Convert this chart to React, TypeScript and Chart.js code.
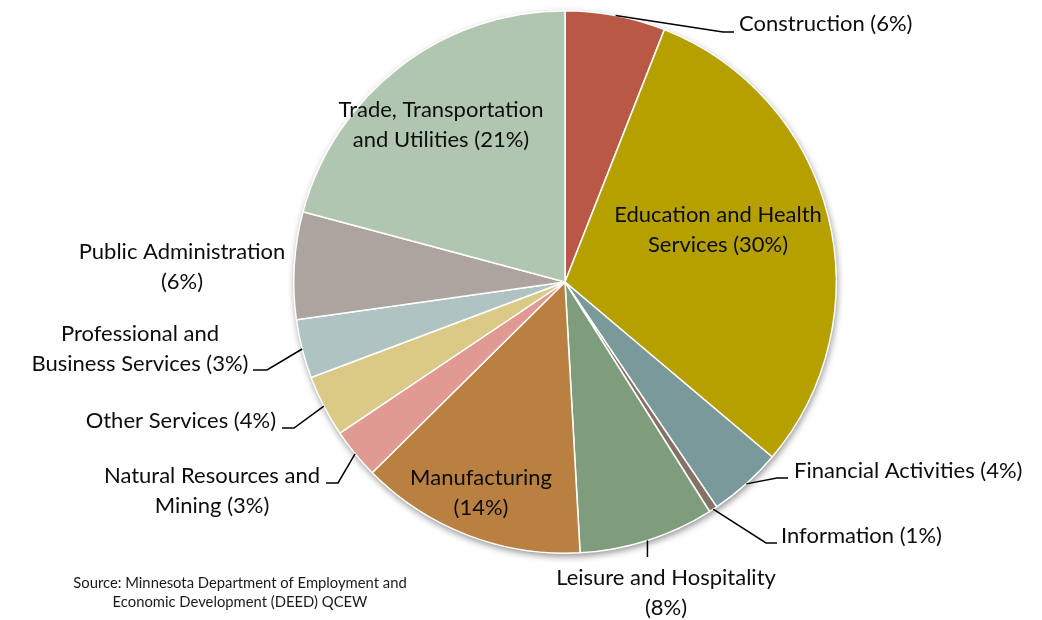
import React, { useEffect, useRef } from "react";
import { Chart, registerables } from "chart.js";

Chart.register(...registerables);

// ---- data ----
const categories = [
  "Construction",
  "Education and Health Services",
  "Financial Activities",
  "Information",
  "Leisure and Hospitality",
  "Manufacturing",
  "Natural Resources and Mining",
  "Other Services",
  "Professional and Business Services",
  "Public Administration",
  "Trade, Transportation and Utilities",
];
const shares = [5.97, 30.19, 4.39, 0.5, 8.06, 13.47, 3.0, 3.69, 3.5, 6.39, 20.83];
const shareLabels = ["6%", "30%", "4%", "1%", "8%", "14%", "3%", "4%", "3%", "6%", "21%"];
const labelLines = [
  ["Construction (6%)"],
  ["Education and Health", "Services (30%)"],
  ["Financial Activities (4%)"],
  ["Information (1%)"],
  ["Leisure and Hospitality", "(8%)"],
  ["Manufacturing", "(14%)"],
  ["Natural Resources and", "Mining (3%)"],
  ["Other Services (4%)"],
  ["Professional and", "Business Services (3%)"],
  ["Public Administration", "(6%)"],
  ["Trade, Transportation", "and Utilities (21%)"],
];
const sourceLines = [
  "Source: Minnesota Department of Employment and",
  "Economic Development (DEED) QCEW",
];

// ---- styles / layout ----
const sliceColors = [
  "#B95844",
  "#B5A000",
  "#7A999A",
  "#847264",
  "#7E9D7C",
  "#B98042",
  "#E09A92",
  "#DBC986",
  "#AFC3C3",
  "#ADA49F",
  "#B1C6B0",
];

type Placement = {
  dx: number;
  dy: number;
  align: CanvasTextAlign;
  elbow?: [number, number] | null;
  end?: [number, number] | null;
  vertical?: number;
};
// offsets relative to the pie centre
const placements: Placement[] = [
  { dx: 174, dy: -258, align: "left", elbow: [158, -250], end: [169, -250] },
  { dx: 153, dy: -67, align: "center" },
  { dx: 229, dy: 189, align: "left", elbow: [212, 196], end: [223, 196] },
  { dx: 216, dy: 254, align: "left", elbow: [201, 261], end: [212, 261] },
  { dx: 101, dy: 296, align: "center", vertical: 275 },
  { dx: -84, dy: 196, align: "center" },
  { dx: -353, dy: 194, align: "center", elbow: [-227, 201], end: [-239, 201] },
  { dx: -289, dy: 139, align: "right", elbow: [-271, 146], end: [-283, 146] },
  { dx: -425, dy: 52, align: "center", elbow: [-298, 88], end: [-312, 88] },
  { dx: -383, dy: -30, align: "center" },
  { dx: -124, dy: -172, align: "center" },
];

const FONT = "Lato, 'Noto Sans', sans-serif";
const LABEL_SIZE = 22;
const LINE_H = 29.5;

const labelPlugin = {
  id: "pieLabels",
  beforeDatasetsDraw(chart: any) {
    const arc = chart.getDatasetMeta(0).data[0];
    if (!arc) return;
    const { x, y, outerRadius } = arc.getProps(["x", "y", "outerRadius"], true);
    const ctx = chart.ctx;
    ctx.save();
    ctx.beginPath();
    ctx.arc(x, y, outerRadius, 0, Math.PI * 2);
    ctx.fillStyle = "#ffffff";
    ctx.shadowColor = "rgba(0,0,0,0.45)";
    ctx.shadowBlur = 7;
    ctx.shadowOffsetX = 1;
    ctx.shadowOffsetY = 3;
    ctx.fill();
    ctx.restore();
  },
  afterDatasetsDraw(chart: any) {
    const ctx = chart.ctx;
    const meta = chart.getDatasetMeta(0);
    ctx.save();
    meta.data.forEach((el: any, i: number) => {
      const p = el.getProps(["x", "y", "startAngle", "endAngle", "outerRadius"], true);
      const cx = p.x;
      const cy = p.y;
      const pl = placements[i];
      const mid = (p.startAngle + p.endAngle) / 2;
      const ax = cx + Math.cos(mid) * p.outerRadius;
      const ay = cy + Math.sin(mid) * p.outerRadius;
      ctx.strokeStyle = "#000000";
      ctx.lineWidth = 1.5;
      if (pl.elbow && pl.end) {
        ctx.beginPath();
        ctx.moveTo(ax, ay);
        ctx.lineTo(cx + pl.elbow[0], cy + pl.elbow[1]);
        ctx.lineTo(cx + pl.end[0], cy + pl.end[1]);
        ctx.stroke();
      } else if (pl.vertical !== undefined) {
        ctx.beginPath();
        ctx.moveTo(ax, ay);
        ctx.lineTo(ax, cy + pl.vertical);
        ctx.stroke();
      }
      ctx.fillStyle = "#0d0d0d";
      ctx.font = `${LABEL_SIZE}px ${FONT}`;
      ctx.textAlign = pl.align;
      ctx.textBaseline = "middle";
      labelLines[i].forEach((line, k) => {
        ctx.fillText(line, cx + pl.dx, cy + pl.dy + k * LINE_H);
      });
    });
    // source note
    ctx.font = `14.8px ${FONT}`;
    ctx.fillStyle = "#1a1a1a";
    ctx.textAlign = "center";
    ctx.textBaseline = "middle";
    sourceLines.forEach((line, k) => {
      ctx.fillText(line, 240, 583 + k * 19.5);
    });
    ctx.restore();
  },
};

export default function App() {
  const ref = useRef<HTMLCanvasElement | null>(null);
  useEffect(() => {
    document.body.style.margin = "0";
    const canvas = ref.current;
    if (!canvas) return;
    const chart = new Chart(canvas, {
      type: "pie",
      data: {
        labels: categories.map((c, i) => `${c} (${shareLabels[i]})`),
        datasets: [
          {
            data: shares,
            backgroundColor: sliceColors,
            borderColor: "#ffffff",
            borderWidth: 1.5,
          },
        ],
      },
      options: {
        animation: false,
        responsive: false,
        devicePixelRatio: 1,
        layout: { padding: { left: 293, right: 205, top: 10, bottom: 66 } },
        plugins: {
          legend: { display: false },
          tooltip: { enabled: false },
          title: { display: false },
        },
      },
      plugins: [labelPlugin],
    });
    return () => chart.destroy();
  }, []);
  return (
    <div style={{ position: "fixed", left: 0, top: 0, width: 1042, height: 620, background: "#fff" }}>
      <canvas ref={ref} width={1042} height={620} style={{ display: "block" }} />
    </div>
  );
}
